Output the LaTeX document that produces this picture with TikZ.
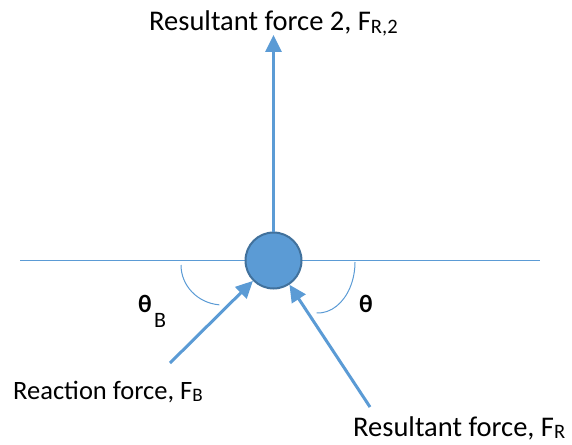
\documentclass[tikz,border=0pt]{standalone}
\usepackage{fontspec}
\setmainfont{Carlito}
\usepackage{tikz}
\usetikzlibrary{positioning,arrows.meta,calc}

\definecolor{forceblue}{RGB}{91,155,213}
\definecolor{balledge}{RGB}{65,113,156}

% lowered, smaller index as the drawing program sets it
\newcommand{\fsub}[1]{\raisebox{-0.2ex}{\scalebox{0.72}{#1}}}

\tikzset{
    force/.style={draw=forceblue, line width=3pt, -{Triangle[length=17pt,width=16pt]}},
    ground/.style={draw=forceblue, line width=1pt},
    anglemark/.style={draw=forceblue, line width=1pt},
    lbl/.style={font=\fontsize{28.5}{32}\selectfont, inner sep=0pt},
    smalllbl/.style={font=\fontsize{26.5}{30}\selectfont, inner sep=0pt},
    anglelbl/.style={font=\fontsize{25}{28}\selectfont\bfseries, inner sep=0pt}
}

\begin{document}
\begin{tikzpicture}[x=1pt, y=-1pt]

    \useasboundingbox (0,0) rectangle (572,444);

    % Ground line and ball
    \coordinate (groundL) at (20,260);
    \coordinate (groundR) at (540,260);
    \draw[ground] (groundL) -- (groundR);
    \node[circle, draw=balledge, line width=2pt, fill=forceblue,
        minimum size=56pt, inner sep=0pt] (ball) at (273.5,260.5) {};

    % Force tips and tails
    \coordinate (tipR2) at (273.5,35);
    \coordinate (tailB) at (170,363);
    \coordinate (tailR) at (370,407);

    \draw[force] (ball.north) -- (tipR2);
    \draw[force] (tailB) -- (ball);
    \draw[force] (tailR) -- (ball);

    % Angle marks
    \draw[anglemark] (181,265) arc[start angle=180, end angle=95, x radius=42, y radius=40];
    \draw[anglemark] (355,262) arc[start angle=0, end angle=92, x radius=37, y radius=51];

    % Labels
    \node[lbl, anchor=base west] (labR2) at (149,31) {Resultant force 2, F\fsub{R,2}};
    \node[smalllbl, anchor=base west] (labB) at (13,399) {Reaction force, F\fsub{B}};
    \node[lbl, anchor=base west] (labR) at (353,436) {Resultant force, F\fsub{R}};
    \node[anglelbl, anchor=base west] (thB) at (138,312) {θ};
    \node[font=\fontsize{22}{24}\selectfont, inner sep=0pt, anchor=base west] (subB) at (154,327) {B};
    \node[anglelbl, anchor=base west] (th) at (359,312) {θ};

\end{tikzpicture}
\end{document}
